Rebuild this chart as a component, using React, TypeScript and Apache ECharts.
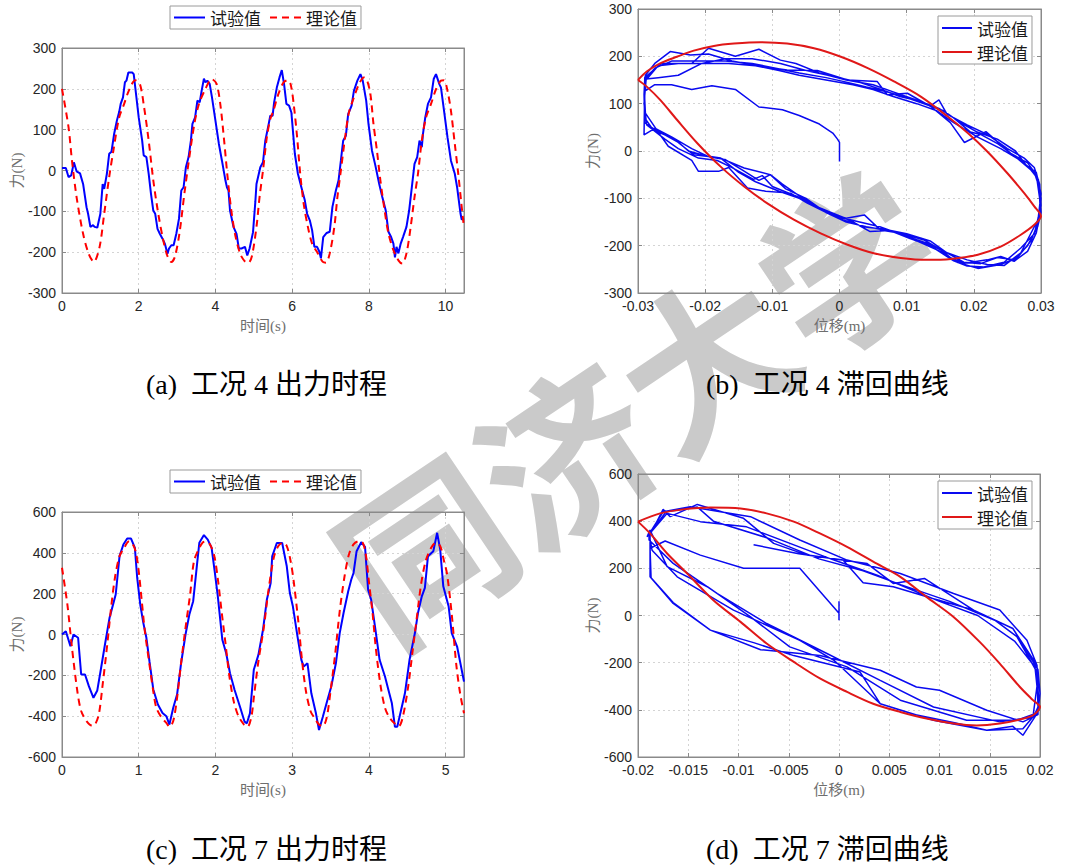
import React, { useEffect, useRef } from 'react';
import * as echarts from 'echarts';

// ---------- texts ----------
const LEGEND_NAMES = ['试验值', '理论值'];
const CAPTIONS = ['(a)  工况 4 出力时程', '(b)  工况 4 滞回曲线', '(c)  工况 7 出力时程', '(d)  工况 7 滞回曲线'];
const WATERMARK = '同济大学';
const TIME_NAME = '时间(s)';
const DISP_NAME = '位移(m)';
const FORCE_NAME = '力(N)';

// ---------- (a) 工况4 出力时程 : [time s, force N] ----------
const A_EXP = [
  [0,6],[0.1,6],[0.17,-16],[0.24,-12],[0.31,20],[0.38,-2],[0.47,-7],[0.55,-33],[0.64,-90],[0.68,-106],[0.74,-138],[0.81,-134],[0.85,-138],[0.92,-140],[1.0,-106],[1.06,-33],[1.1,-45],[1.17,-8],[1.23,41],[1.29,46],[1.36,90],[1.43,122],[1.49,143],[1.53,163],[1.59,179],[1.64,216],[1.68,220],[1.73,240],[1.83,240],[1.87,236],[1.94,179],[2.0,130],[2.09,73],[2.13,37],[2.2,33],[2.26,-8],[2.32,-57],[2.38,-98],[2.43,-106],[2.49,-143],[2.55,-155],[2.62,-167],[2.68,-179],[2.75,-204],[2.79,-191],[2.85,-183],[2.91,-183],[2.98,-155],[3.05,-118],[3.11,-49],[3.17,-41],[3.23,8],[3.3,33],[3.36,73],[3.4,114],[3.47,130],[3.53,171],[3.59,167],[3.64,195],[3.7,225],[3.74,216],[3.79,220],[3.85,212],[3.91,179],[4.0,122],[4.09,65],[4.17,24],[4.26,-24],[4.3,-41],[4.34,-49],[4.38,-98],[4.47,-138],[4.55,-155],[4.61,-191],[4.68,-191],[4.77,-187],[4.83,-208],[4.89,-191],[4.98,-151],[5.04,-77],[5.07,-33],[5.17,8],[5.24,20],[5.3,73],[5.38,110],[5.43,134],[5.49,134],[5.53,167],[5.6,203],[5.67,228],[5.73,246],[5.79,211],[5.85,163],[5.92,159],[5.98,142],[6.07,41],[6.15,-8],[6.24,-41],[6.33,-73],[6.39,-106],[6.46,-122],[6.52,-146],[6.58,-187],[6.65,-187],[6.71,-199],[6.75,-215],[6.81,-163],[6.9,-153],[6.98,-150],[7.05,-89],[7.14,-49],[7.21,-24],[7.27,24],[7.33,73],[7.4,85],[7.46,138],[7.55,159],[7.61,195],[7.7,220],[7.78,236],[7.84,220],[7.93,171],[7.99,114],[8.08,49],[8.17,12],[8.27,-33],[8.35,-65],[8.44,-98],[8.51,-150],[8.58,-163],[8.64,-179],[8.68,-213],[8.72,-187],[8.77,-203],[8.83,-179],[8.89,-163],[8.98,-138],[9.05,-98],[9.13,-33],[9.19,16],[9.26,33],[9.32,73],[9.38,57],[9.41,89],[9.47,130],[9.54,163],[9.62,179],[9.69,224],[9.75,236],[9.84,211],[9.88,203],[9.96,146],[10.05,81],[10.14,24],[10.24,-8],[10.3,-41],[10.39,-106],[10.42,-120],[10.48,-117]
];
const A_THEORY = [
  [0,200],[0.17,106],[0.26,24],[0.38,-65],[0.55,-155],[0.7,-205],[0.83,-224],[0.98,-187],[1.1,-106],[1.23,-16],[1.34,49],[1.49,130],[1.62,163],[1.74,195],[1.91,221],[2.03,212],[2.14,155],[2.26,73],[2.38,-24],[2.51,-106],[2.64,-171],[2.75,-210],[2.85,-224],[2.94,-212],[3.06,-155],[3.19,-57],[3.32,33],[3.45,114],[3.57,163],[3.74,200],[3.9,224],[4.03,212],[4.13,160],[4.22,80],[4.31,-10],[4.41,-95],[4.52,-160],[4.65,-205],[4.78,-224],[4.86,-226],[4.95,-210],[5.07,-138],[5.15,-65],[5.24,0],[5.34,81],[5.43,126],[5.51,146],[5.64,187],[5.77,215],[5.88,221],[5.96,211],[6.04,163],[6.13,81],[6.21,-8],[6.3,-81],[6.41,-138],[6.52,-179],[6.67,-203],[6.8,-224],[6.88,-226],[6.98,-203],[7.1,-138],[7.18,-65],[7.27,0],[7.38,81],[7.48,142],[7.61,179],[7.74,211],[7.87,228],[7.95,221],[8.04,187],[8.12,114],[8.21,49],[8.3,-24],[8.41,-98],[8.51,-154],[8.64,-195],[8.77,-220],[8.87,-228],[8.98,-203],[9.09,-138],[9.19,-65],[9.28,-8],[9.38,73],[9.49,130],[9.62,163],[9.75,199],[9.88,220],[9.96,221],[10.05,195],[10.14,146],[10.24,65],[10.33,-8],[10.41,-80],[10.48,-140]
];

// ---------- (c) 工况7 出力时程 ----------
const C_EXP = [
  [0,0],[0.05,16],[0.11,-57],[0.15,0],[0.21,-16],[0.25,-196],[0.3,-196],[0.35,-253],[0.41,-310],[0.46,-274],[0.51,-163],[0.56,-49],[0.62,82],[0.66,139],[0.7,196],[0.75,384],[0.8,441],[0.85,470],[0.9,470],[0.95,424],[0.98,278],[1.02,147],[1.06,57],[1.1,-16],[1.14,-131],[1.19,-269],[1.25,-343],[1.31,-384],[1.36,-400],[1.4,-441],[1.45,-359],[1.5,-294],[1.55,-147],[1.61,0],[1.66,98],[1.71,163],[1.76,343],[1.79,449],[1.85,487],[1.9,465],[1.95,424],[1.99,310],[2.03,190],[2.09,-26],[2.14,-92],[2.19,-190],[2.25,-272],[2.32,-354],[2.38,-427],[2.41,-435],[2.45,-386],[2.5,-173],[2.56,-100],[2.62,23],[2.67,170],[2.72,252],[2.74,383],[2.8,448],[2.87,448],[2.93,334],[2.97,203],[3.01,137],[3.07,-10],[3.12,-124],[3.15,-157],[3.2,-141],[3.25,-288],[3.31,-386],[3.35,-468],[3.4,-403],[3.46,-321],[3.51,-255],[3.57,-141],[3.62,7],[3.67,105],[3.73,211],[3.77,268],[3.8,301],[3.84,408],[3.9,452],[3.95,429],[3.99,219],[4.03,170],[4.08,39],[4.14,-124],[4.21,-206],[4.25,-264],[4.3,-337],[4.34,-452],[4.37,-452],[4.4,-403],[4.47,-288],[4.53,-124],[4.6,7],[4.64,105],[4.69,187],[4.73,228],[4.77,383],[4.84,408],[4.89,498],[4.93,416],[4.97,236],[5.04,137],[5.08,7],[5.15,-59],[5.24,-231]
];
const C_THEORY = [
  [0,327],[0.07,147],[0.13,-65],[0.2,-278],[0.25,-375],[0.32,-424],[0.39,-446],[0.43,-441],[0.48,-392],[0.53,-245],[0.59,-49],[0.64,131],[0.69,278],[0.75,384],[0.81,424],[0.87,455],[0.91,449],[0.96,408],[1.0,310],[1.04,163],[1.08,16],[1.14,-147],[1.19,-278],[1.23,-359],[1.3,-408],[1.36,-433],[1.4,-452],[1.45,-424],[1.5,-310],[1.55,-147],[1.61,33],[1.67,196],[1.72,359],[1.78,416],[1.83,449],[1.87,455],[1.93,441],[1.99,376],[2.04,245],[2.08,114],[2.13,-40],[2.18,-200],[2.24,-330],[2.3,-400],[2.37,-440],[2.42,-452],[2.47,-400],[2.5,-310],[2.56,-131],[2.63,33],[2.69,212],[2.76,376],[2.82,433],[2.88,449],[2.93,433],[2.98,359],[3.02,261],[3.08,65],[3.13,-131],[3.18,-278],[3.24,-376],[3.29,-408],[3.35,-441],[3.4,-449],[3.45,-408],[3.5,-278],[3.56,-98],[3.62,114],[3.68,278],[3.74,392],[3.8,441],[3.87,457],[3.92,449],[3.96,392],[4.0,261],[4.05,98],[4.09,-65],[4.15,-245],[4.21,-359],[4.27,-408],[4.35,-441],[4.39,-449],[4.44,-408],[4.51,-261],[4.57,-82],[4.63,98],[4.68,245],[4.74,359],[4.81,424],[4.87,449],[4.93,433],[4.98,359],[5.02,294],[5.08,100],[5.14,-150],[5.19,-290],[5.24,-386]
];

// ---------- (b) 工况4 滞回曲线 : [displacement m, force N] ----------
const B_EXP_START = [[0,-22],[0,0],[0,18],[-0.0003,25],[-0.001,38],[-0.003,57],[-0.006,75],[-0.0085,87],[-0.012,93],[-0.0155,130],[-0.019,138],[-0.022,130],[-0.025,140],[-0.0275,140],[-0.0288,128],[-0.029,140]];
const B_EXP_LOOP1 = [[-0.0291,34],[-0.0275,48],[-0.025,30],[-0.022,5],[-0.0195,-12],[-0.017,-18],[-0.0145,-40],[-0.012,-62],[-0.0103,-50],[-0.008,-80],[-0.005,-100],[-0.002,-130],[0.001,-150],[0.004,-160],[0.008,-170],[0.0115,-190],[0.015,-212],[0.0175,-235],[0.0206,-248],[0.024,-240],[0.0265,-225],[0.0285,-190],[0.0296,-150],[0.03,-115],[0.0298,-70],[0.029,-35],[0.0275,-15],[0.025,5],[0.022,35],[0.019,55],[0.016,78],[0.0148,108],[0.0135,95],[0.011,110],[0.008,125],[0.005,140],[0.001,150],[-0.003,165],[-0.0065,185],[-0.0088,192],[-0.012,215],[-0.0155,200],[-0.0195,217],[-0.022,185],[-0.0265,185],[-0.029,155]];
const B_EXP_LOOP2 = [[-0.029,110],[-0.0289,80],[-0.0265,30],[-0.0255,10],[-0.022,-20],[-0.021,-43],[-0.018,-43],[-0.0165,-35],[-0.0137,-78],[-0.011,-85],[-0.0073,-89],[-0.0048,-110],[-0.0018,-131],[0.001,-142],[0.0037,-135],[0.0061,-167],[0.0091,-174],[0.0126,-188],[0.0151,-209],[0.0166,-226],[0.0186,-237],[0.022,-230],[0.024,-223],[0.026,-233],[0.028,-212],[0.0293,-173],[0.0299,-130],[0.0298,-100],[0.0293,-50],[0.028,-25],[0.0255,-5],[0.0218,41],[0.0186,18],[0.0165,60],[0.0136,94],[0.0101,122],[0.0071,119],[0.0056,147],[0.0012,150],[-0.0033,170],[-0.0078,171],[-0.0122,180],[-0.016,190],[-0.0195,205],[-0.0222,203],[-0.0252,210],[-0.0275,185],[-0.0289,160]];
const B_EXP_LOOP3 = [[-0.029,150],[-0.029,70],[-0.028,50],[-0.0242,20],[-0.0217,-8],[-0.0177,-15],[-0.0142,-36],[-0.0103,-50],[-0.0085,-70],[-0.006,-95],[-0.003,-120],[0,-140],[0.003,-150],[0.006,-160],[0.009,-175],[0.013,-195],[0.016,-215],[0.019,-230],[0.022,-240],[0.0245,-242],[0.027,-215],[0.029,-160],[0.0298,-140],[0.03,-100],[0.0296,-60],[0.0285,-40],[0.026,-10],[0.0236,15],[0.021,35],[0.0195,40],[0.017,70],[0.0148,90],[0.012,105],[0.009,115],[0.0062,130],[0.003,145],[-0.001,158],[-0.005,170],[-0.0088,185],[-0.013,195],[-0.017,195],[-0.0205,185],[-0.024,185],[-0.027,180],[-0.0288,150]];
const B_EXP_LOOP4 = [[-0.0291,100],[-0.0287,55],[-0.026,25],[-0.024,5],[-0.021,-15],[-0.0182,-20],[-0.016,-35],[-0.0128,-60],[-0.0115,-52],[-0.01,-75],[-0.0065,-95],[-0.003,-120],[0.0005,-140],[0.002,-150],[0.0045,-170],[0.0075,-168],[0.0105,-185],[0.0135,-200],[0.017,-232],[0.019,-243],[0.0215,-245],[0.0245,-235],[0.027,-205],[0.029,-175],[0.0296,-140],[0.03,-90],[0.0293,-45],[0.0278,-30],[0.0262,0],[0.0235,25],[0.0205,40],[0.018,60],[0.0155,85],[0.0125,100],[0.0095,115],[0.007,125],[0.004,135],[0.0012,145],[-0.002,155],[-0.006,165],[-0.0095,175],[-0.013,185],[-0.017,190],[-0.021,190],[-0.025,190],[-0.0275,175],[-0.029,150]];
const B_EXP_LOOP5 = [[-0.0291,120],[-0.029,60],[-0.027,40],[-0.0245,25],[-0.0225,0],[-0.02,-10],[-0.0177,-15],[-0.015,-45],[-0.0125,-65],[-0.009,-85],[-0.006,-100],[-0.0025,-125],[0.0005,-145],[0.0035,-160],[0.0065,-165],[0.01,-175],[0.0135,-190],[0.016,-215],[0.0185,-235],[0.021,-238],[0.0235,-225],[0.026,-230],[0.028,-200],[0.0295,-160],[0.03,-130],[0.0298,-80],[0.029,-45],[0.027,-20],[0.024,5],[0.0205,30],[0.017,60],[0.0145,85],[0.0115,100],[0.008,115],[0.005,130],[0.002,140],[-0.002,150],[-0.006,160],[-0.009,170],[-0.0125,180],[-0.0165,185],[-0.0205,185],[-0.024,160],[-0.027,155],[-0.0288,152]];
const B_THEORY = [[-0.03,150],[-0.0287,168],[-0.0267,185],[-0.0242,199],[-0.0217,212],[-0.0187,222],[-0.0157,227],[-0.0118,230],[-0.0078,227],[-0.0038,217],[0.0002,199],[0.0042,175],[0.0081,147],[0.0121,115],[0.0161,73],[0.0191,38],[0.022,-1],[0.025,-47],[0.0275,-89],[0.029,-117],[0.03,-138],[0.029,-156],[0.027,-177],[0.024,-202],[0.0206,-219],[0.0166,-228],[0.0131,-230],[0.0091,-226],[0.0051,-216],[0.0012,-198],[-0.0028,-174],[-0.0068,-145],[-0.0108,-110],[-0.0142,-75],[-0.0177,-33],[-0.0212,17],[-0.0242,66],[-0.0267,108],[-0.0287,136],[-0.03,150]];

// ---------- (d) 工况7 滞回曲线 ----------
const D_EXP_START = [[0,-20],[0,60],[0,10],[-0.0039,200],[-0.0095,200],[-0.0138,256],[-0.0173,316],[-0.0188,285]];
const D_EXP_LOOP1 = [[-0.0187,160],[-0.0165,55],[-0.0128,-62],[-0.0078,-145],[-0.0019,-170],[0.0041,-232],[0.0077,-303],[0.01,-317],[0.0147,-402],[0.0183,-451],[0.0198,-420],[0.0198,-388],[0.0197,-211],[0.0187,-105],[0.016,23],[0.0114,93],[0.0061,178],[0.0008,235],[-0.0039,320],[-0.0088,419],[-0.0148,461],[-0.0175,440],[-0.0189,345]];
const D_EXP_LOOP2 = [[-0.0186,277],[-0.0161,164],[-0.0105,23],[-0.0039,-105],[-0.0005,-190],[0.0041,-374],[0.0094,-444],[0.0147,-487],[0.0173,-470],[0.0183,-508],[0.0198,-410],[0.02,-331],[0.0198,-230],[0.0173,-55],[0.0134,23],[0.0085,157],[0.0054,136],[0.0028,220],[-0.0032,256],[-0.0065,306],[-0.0095,412],[-0.0141,471],[-0.0168,419],[-0.0175,450],[-0.0189,334]];
const D_EXP_LOOP3 = [[-0.0189,320],[-0.0165,221],[-0.0121,93],[-0.0072,-34],[-0.0012,-161],[0.0041,-275],[0.0094,-388],[0.016,-451],[0.0193,-430],[0.0197,-300],[0.0195,-218],[0.0175,-110],[0.0138,0],[0.01,60],[0.0055,140],[0.0038,171],[-0.0005,235],[-0.0092,376],[-0.0138,398],[-0.0171,433],[-0.0191,334]];
const D_EXP_LOOP4 = [[-0.0188,362],[-0.0171,207],[-0.0131,122],[-0.0088,-6],[-0.0049,-133],[0.0008,-218],[0.0061,-359],[0.0127,-444],[0.0177,-444],[0.0195,-416],[0.0198,-388],[0.0197,-240],[0.0177,-90],[0.0155,-20],[0.011,60],[0.0062,130],[0.0024,190],[-0.002,240],[-0.0072,330],[-0.0125,400],[-0.0141,460],[-0.0172,440],[-0.0188,350]];
const D_EXP_LOOP5 = [[-0.0188,300],[-0.0188,164],[-0.0165,51],[-0.0128,-62],[-0.0085,-115],[-0.0045,-170],[0.0021,-240],[0.0041,-374],[0.0075,-420],[0.0115,-455],[0.0147,-487],[0.0183,-480],[0.0199,-400],[0.0197,-211],[0.0173,-55],[0.0134,23],[0.0095,70],[0.0054,122],[0.0024,139],[0.0004,235],[-0.004,262],[-0.0085,300]];
const D_THEORY = [[-0.02,398],[-0.0178,433],[-0.0155,450],[-0.0128,458],[-0.0098,454],[-0.0072,433],[-0.0045,398],[-0.0019,348],[0.0008,291],[0.0034,228],[0.0061,164],[0.0087,79],[0.0114,-6],[0.014,-112],[0.016,-204],[0.018,-303],[0.0193,-359],[0.02,-388],[0.0193,-423],[0.018,-441],[0.016,-458],[0.0137,-466],[0.0114,-458],[0.0087,-437],[0.0061,-409],[0.0034,-374],[0.0008,-324],[-0.0019,-267],[-0.0045,-197],[-0.0072,-119],[-0.0098,-27],[-0.0125,65],[-0.0151,178],[-0.0171,263],[-0.0188,348],[-0.02,398]];

const B_EXP = [...B_EXP_START, ...B_EXP_LOOP1, ...B_EXP_LOOP2, ...B_EXP_LOOP3, ...B_EXP_LOOP4, ...B_EXP_LOOP5];
const D_EXP = [...D_EXP_START, ...D_EXP_LOOP1, ...D_EXP_LOOP2, ...D_EXP_LOOP3, ...D_EXP_LOOP4, ...D_EXP_LOOP5];

// ---------- styling ----------
const FRAME = '#8a8a8a';
const LABEL_COLOR = '#262626';
const GRID_LINE = '#d4d4d4';
const BLUE = '#0000ff';
const RED = '#ff0000';
const HBLUE = '#0a0af0';
const HRED = '#e01818';
const SANS = "'Liberation Sans', Arial, sans-serif";
const SERIF_CJK = "'Liberation Serif', 'Noto Sans CJK SC', serif";
const CJK = "'Noto Sans CJK SC', sans-serif";

const GRIDS = [
  { left: 62, top: 48, width: 402, height: 245 },
  { left: 638, top: 9, width: 403, height: 284 },
  { left: 62, top: 512, width: 402, height: 245 },
  { left: 638, top: 474, width: 402, height: 283 },
];

const X_SPECS = [
  { min: 0, max: 10.48, interval: 2, name: TIME_NAME, dec: 0 },
  { min: -0.03, max: 0.03, interval: 0.01, name: DISP_NAME, dec: 3 },
  { min: 0, max: 5.24, interval: 1, name: TIME_NAME, dec: 0 },
  { min: -0.02, max: 0.02, interval: 0.005, name: DISP_NAME, dec: 4 },
];
const Y_SPECS = [
  { min: -300, max: 300, interval: 100 },
  { min: -300, max: 300, interval: 100 },
  { min: -600, max: 600, interval: 200 },
  { min: -600, max: 600, interval: 200 },
];
const Y_NAME_GAP = [32, 31, 32, 31];

function onGrid(v: number, min: number, interval: number) {
  const k = (v - min) / interval;
  return Math.abs(k - Math.round(k)) < 1e-6;
}

function buildOption() {
  const xAxis: any[] = [];
  const yAxis: any[] = [];
  GRIDS.forEach((_, i) => {
    const xs = X_SPECS[i];
    const ys = Y_SPECS[i];
    const common = {
      gridIndex: i,
      type: 'value',
      axisLine: { show: true, onZero: false, lineStyle: { color: FRAME, width: 1 } },
      axisTick: { show: true, inside: true, length: 4, lineStyle: { color: FRAME } },
    };
    xAxis.push({
      ...common,
      position: 'bottom',
      min: xs.min, max: xs.max, interval: xs.interval,
      name: xs.name, nameLocation: 'middle', nameGap: 25,
      nameTextStyle: { fontFamily: SERIF_CJK, fontSize: 15, color: '#6e6e6e' },
      axisLabel: {
        margin: 6, color: LABEL_COLOR, fontSize: 14, fontFamily: SANS,
        formatter: (v: number) => (onGrid(v, xs.min, xs.interval) ? String(parseFloat(v.toFixed(xs.dec + 1))) : ''),
      },
      splitLine: { show: true, lineStyle: { color: GRID_LINE, type: [2, 3], width: 1 } },
    });
    xAxis.push({
      ...common,
      position: 'top',
      min: xs.min, max: xs.max, interval: xs.interval,
      axisLabel: { show: false },
      splitLine: { show: false },
    });
    yAxis.push({
      ...common,
      position: 'left',
      min: ys.min, max: ys.max, interval: ys.interval,
      name: FORCE_NAME, nameLocation: 'middle', nameGap: Y_NAME_GAP[i], nameRotate: 90,
      nameTextStyle: { fontFamily: SERIF_CJK, fontSize: 15, color: '#6e6e6e' },
      axisLabel: { margin: 6, color: LABEL_COLOR, fontSize: 14, fontFamily: SANS },
      splitLine: { show: true, lineStyle: { color: GRID_LINE, type: [2, 3], width: 1 } },
    });
    yAxis.push({
      ...common,
      position: 'right',
      min: ys.min, max: ys.max, interval: ys.interval,
      axisLabel: { show: false },
      splitLine: { show: false },
    });
  });

  const line = (name: string, idx: number, data: number[][], color: string, width: number, dashed: boolean, smooth: number | boolean) => ({
    type: 'line', name, data,
    xAxisIndex: idx * 2, yAxisIndex: idx * 2,
    symbol: 'none', smooth,
    clip: true,
    lineStyle: { color, width, type: dashed ? [7, 5] : 'solid' },
    itemStyle: { color },
    z: 3,
  });

  const series = [
    line(LEGEND_NAMES[0], 0, A_EXP, BLUE, 2, false, false),
    line(LEGEND_NAMES[1], 0, A_THEORY, RED, 2, true, 0.3),
    line(LEGEND_NAMES[0], 1, B_EXP, HBLUE, 1.5, false, false),
    line(LEGEND_NAMES[1], 1, B_THEORY, HRED, 2, false, 0.3),
    line(LEGEND_NAMES[0], 2, C_EXP, BLUE, 2, false, false),
    line(LEGEND_NAMES[1], 2, C_THEORY, RED, 2, true, 0.3),
    line(LEGEND_NAMES[0], 3, D_EXP, HBLUE, 1.5, false, false),
    line(LEGEND_NAMES[1], 3, D_THEORY, HRED, 2, false, 0.3),
  ];

  const hiddenSymbol = { color: 'rgba(0,0,0,0)', borderWidth: 0, opacity: 0 };
  const legendBase = {
    selectedMode: false,
    borderColor: '#9a9a9a',
    borderWidth: 1,
    backgroundColor: '#ffffff',
    borderRadius: 0,
    itemStyle: hiddenSymbol,
    z: 6,
  };
  const legendH = (top: number) => ({
    ...legendBase,
    orient: 'horizontal', left: 170, top,
    textStyle: { fontSize: 17, color: '#1a1a1a', fontFamily: CJK },
    itemWidth: 31, itemHeight: 12, itemGap: 8, padding: [3, 4, 3, 3],
    data: [
      { name: LEGEND_NAMES[0], itemStyle: hiddenSymbol, lineStyle: { type: 'solid', color: BLUE, width: 2 } },
      { name: LEGEND_NAMES[1], itemStyle: hiddenSymbol, lineStyle: { type: [7, 5], color: RED, width: 2 } },
    ],
  });
  const legendV = (top: number) => ({
    ...legendBase,
    orient: 'vertical', left: 938, top,
    textStyle: { fontSize: 17, lineHeight: 18, color: '#1a1a1a', fontFamily: CJK },
    itemWidth: 30, itemHeight: 12, itemGap: 6, padding: [3, 4, 3, 3],
    data: [
      { name: LEGEND_NAMES[0], itemStyle: hiddenSymbol, lineStyle: { type: 'solid', color: HBLUE, width: 2 } },
      { name: LEGEND_NAMES[1], itemStyle: hiddenSymbol, lineStyle: { type: 'solid', color: HRED, width: 2 } },
    ],
  });

  const captionPos = [[146, 384], [706, 384], [146, 849], [706, 849]];
  const graphics: any[] = [
    {
      type: 'text', x: 632, y: 401, rotation: (34 * Math.PI) / 180, z: -1,
      style: { text: WATERMARK, fontSize: 170, fontWeight: 'bold', fontFamily: CJK, fill: '#cacaca', textAlign: 'center', textVerticalAlign: 'middle' },
    },
  ];
  captionPos.forEach((p, i) => {
    graphics.push({
      type: 'text', x: p[0], y: p[1], z: 5,
      style: { text: CAPTIONS[i], fontSize: 28, fontFamily: SERIF_CJK, fill: '#000', textVerticalAlign: 'middle', textAlign: 'left' },
    });
  });

  return {
    animation: false,
    backgroundColor: '#ffffff',
    grid: GRIDS.map((g) => ({ ...g, show: true, borderColor: FRAME, borderWidth: 1, backgroundColor: 'transparent', containLabel: false })),
    xAxis, yAxis, series,
    legend: [legendH(6), legendV(16), legendH(470), legendV(481)],
    graphic: graphics,
  };
}

export default function App() {
  const ref = useRef<HTMLDivElement>(null);
  useEffect(() => {
    if (!ref.current) return;
    const chart = echarts.init(ref.current, undefined, { renderer: 'svg' });
    chart.setOption(buildOption() as any);
    return () => chart.dispose();
  }, []);
  return <div ref={ref} style={{ position: 'absolute', left: 0, top: 0, width: 1068, height: 865 }} />;
}
